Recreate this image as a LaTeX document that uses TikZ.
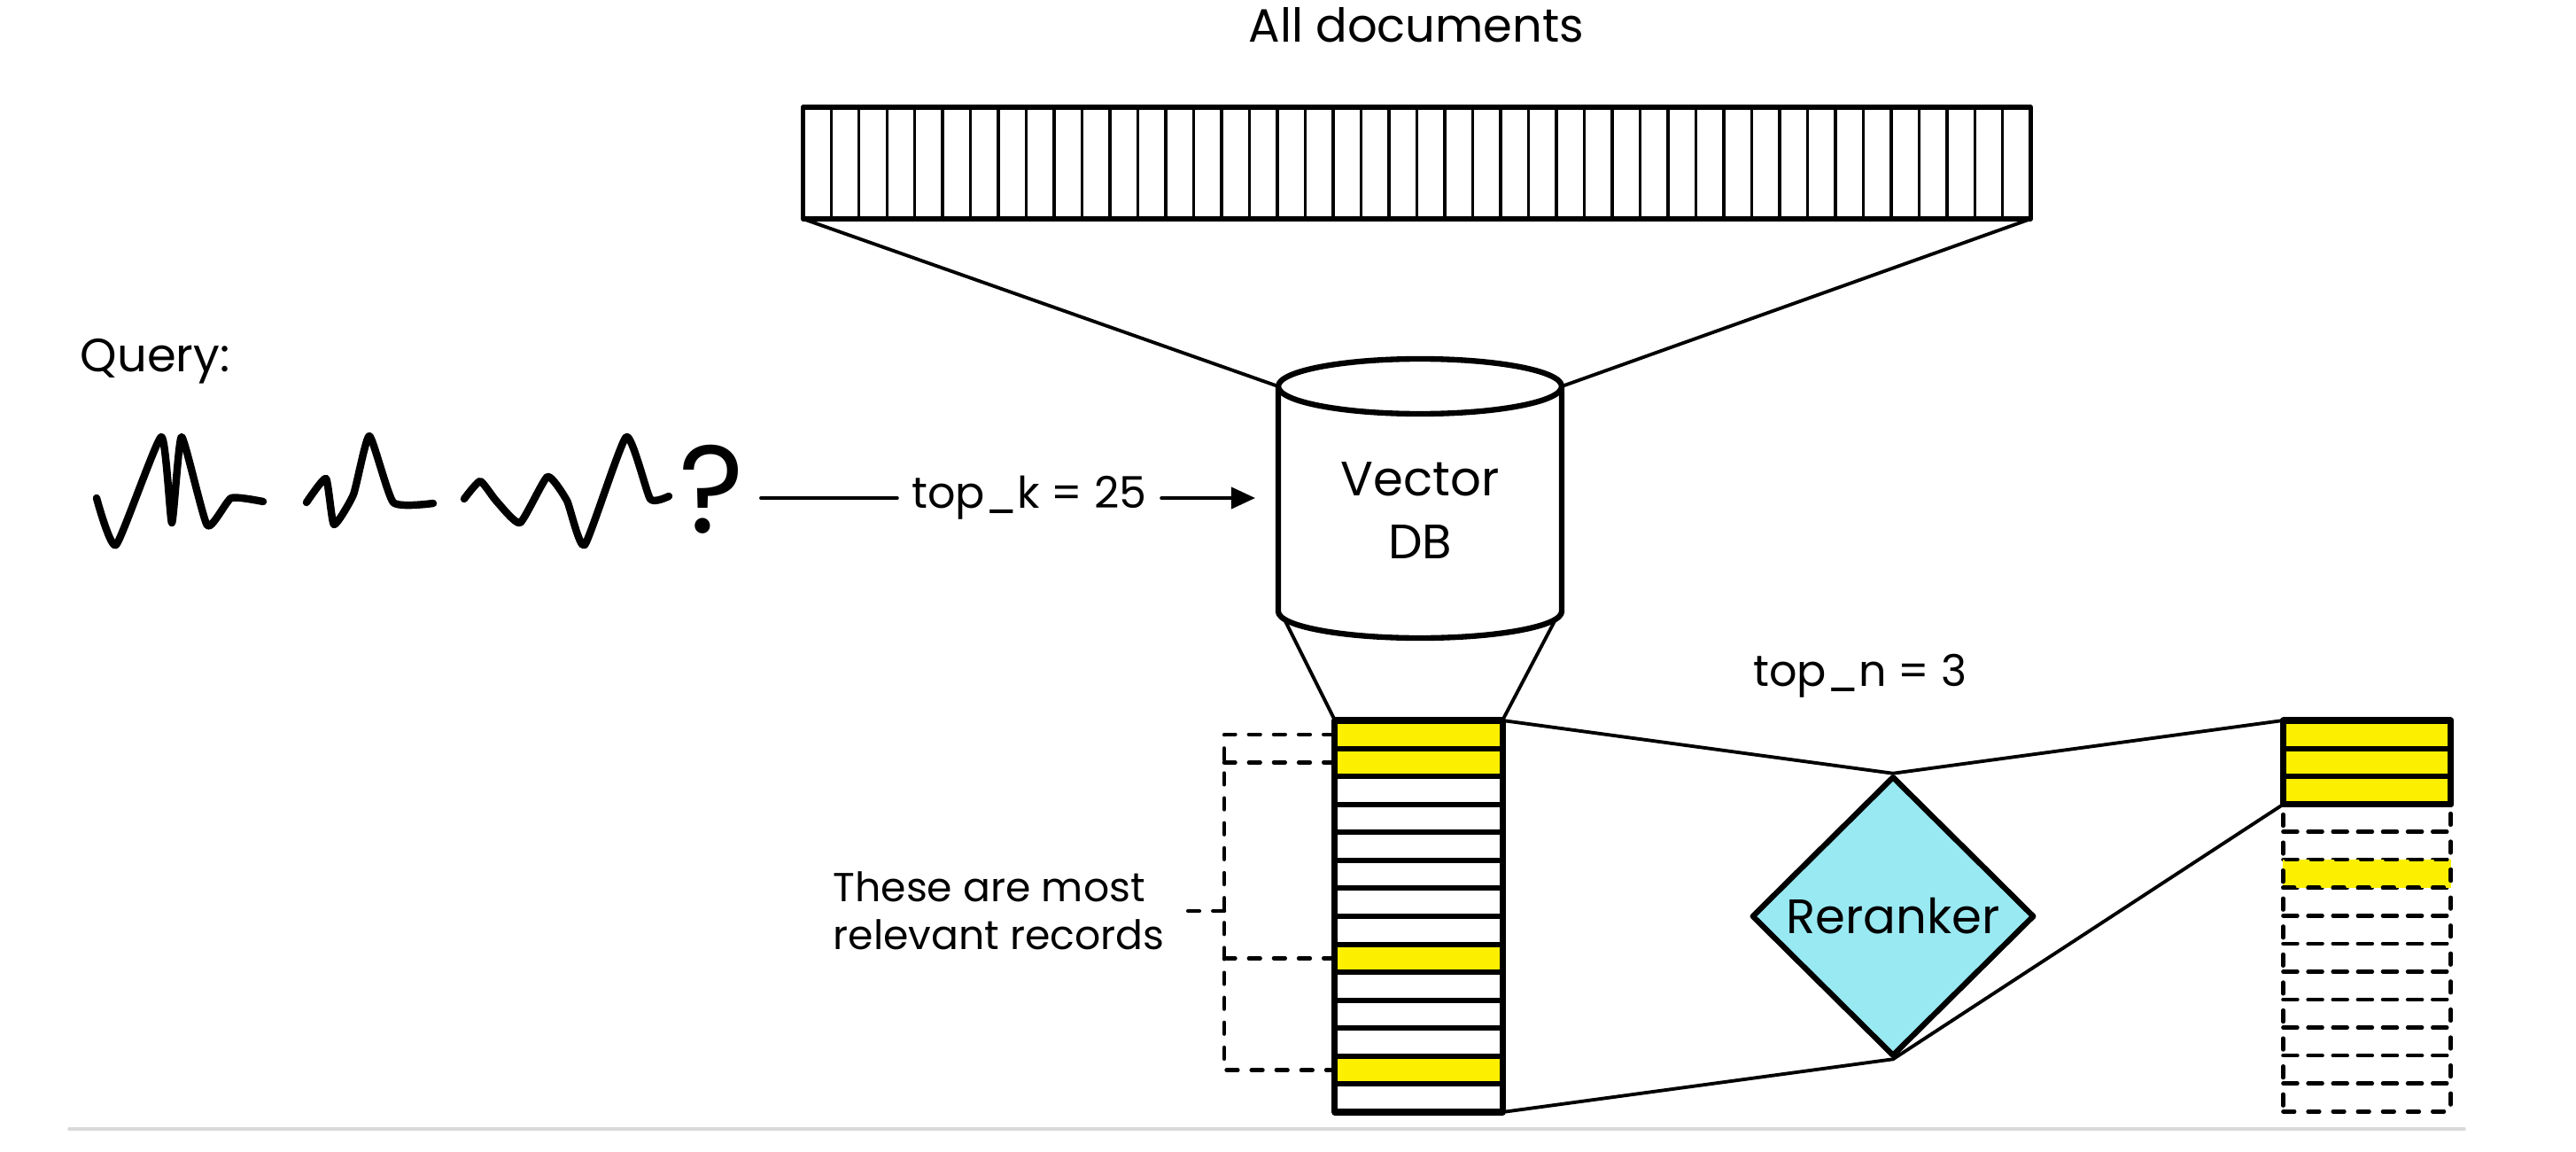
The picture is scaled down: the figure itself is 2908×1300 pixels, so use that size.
\documentclass[tikz,border=0pt]{standalone}
\usepackage{fontspec}
\setmainfont{Poppins}
\usetikzlibrary{shapes.geometric, arrows.meta, positioning, calc}
\definecolor{stabilo}{RGB}{252,240,0}
\definecolor{birumuda}{RGB}{153,233,242}

\begin{document}
\begin{tikzpicture}[x=0.01cm, y=-0.01cm, line join=round, line cap=round]
    % Gaya garis dan teks
    \tikzset{
      garis/.style={line width=1.1pt},
      tebal/.style={line width=1.8pt},
      coret/.style={line width=2.4pt},
      putus/.style={line width=1.3pt, dash pattern=on 3.6pt off 4.4pt},
      teks/.style={font=\fontsize{14}{19}\selectfont, inner sep=0pt},
      baris/.style={draw, line width=1.7pt, minimum width=1.89cm, minimum height=0.3157cm, inner sep=0pt, outer sep=0pt}
    }
    \useasboundingbox (0,0) rectangle (2908,1300);

    % Semua dokumen
    \node[teks, font=\fontsize{15}{18}\selectfont] (judul) at (1599,28) {All documents};
    \node[draw, line width=1.6pt, minimum width=13.85cm, minimum height=1.26cm, inner sep=0pt, outer sep=0pt] (docs) at (1599.5,184) {};
    \foreach \i in {1,...,43}
      \draw[line width=0.9pt] ($(docs.north west)!\i/44!(docs.north east)$) -- ($(docs.south west)!\i/44!(docs.south east)$);

    % Silinder Vector DB
    \coordinate (dbpusat) at (1603,436);
    \coordinate (dbtl) at (1443,436);
    \coordinate (dbtr) at (1763,436);
    \coordinate (dbbl) at (1443,690);
    \coordinate (dbkiri) at (1450,699);
    \coordinate (dbkanan) at (1756,699);
    \draw[garis] (docs.south west) -- (dbtl);
    \draw[garis] (docs.south east) -- (dbtr);
    \draw[tebal, fill=white] (dbtl) -- (dbbl) arc[start angle=180, end angle=0, x radius=160, y radius=30] -- (dbtr);
    \draw[tebal] (dbpusat) ellipse[x radius=160, y radius=31];
    \node[teks, font=\fontsize{15.5}{20}\selectfont, align=center] (db) at (1603,576) {Vector\\DB};

    % Query
    \node[teks, anchor=west, font=\fontsize{15}{18}\selectfont] (query) at (90,408) {Query:};
    \draw[coret] plot[smooth, tension=0.3] coordinates {(109,562) (131,615) (182,493) (194,590) (205,493) (234,593) (261,562) (297,566)};
    \draw[coret] plot[smooth, tension=0.3] coordinates {(346,567) (368,540) (377,592) (399,558) (417,492) (444,567) (489,568)};
    \draw[coret] plot[smooth, tension=0.3] coordinates {(524,563) (542,543) (560,565) (587,590) (618,538) (640,565) (660,615) (707,493) (734,563) (755,560)};
    \node[teks, font=\fontsize{40}{40}\selectfont] (tanya) at (803,552) {?};
    \coordinate (qmulai) at (859,562);
    \coordinate (dbmasuk) at (1417,562);
    \node[teks, inner sep=4.5pt] (topk) at (1162,562) {top\_k = 25};
    \draw[garis] (qmulai) -- (topk.west);
    \draw[garis, -{Triangle[length=0.27cm, width=0.24cm]}] (topk.east) -- (dbmasuk);

    % Kolom hasil pencarian
    \foreach \i in {1,...,14}
      \node[baris, fill=white] (r\i) at (1601.5, {813+(\i-0.5)*31.57}) {};
    \foreach \i in {1,2,9,13}
      \node[baris, fill=stabilo] at (r\i) {};
    \draw[line width=2pt] (r1.north west) rectangle (r14.south east);
    \draw[garis] (dbkiri) -- (r1.north west);
    \draw[garis] (dbkanan) -- (r1.north east);

    % Kurung putus-putus
    \node[teks, anchor=west, align=left, font=\fontsize{13}{15.4}\selectfont] (catatan) at (940,1028) {These are most\\relevant records};
    \coordinate (kx) at (1382,0);
    \draw[putus] (r1.west) -- (r1.west -| kx) -- (r13.west -| kx) -- (r13.west);
    \draw[putus] (r2.west) -- (r2.west -| kx);
    \draw[putus] (r9.west) -- (r9.west -| kx);
    \draw[putus, shorten >=0.2cm] (catatan.east -| kx) -- (catatan.east);

    % Reranker
    \node[diamond, draw, tebal, fill=birumuda, minimum width=3.19cm, minimum height=3.16cm, inner sep=0pt, font=\fontsize{15.5}{18}\selectfont] (rr) at (2137,1034) {Reranker};
    \node[teks] (topn) at (2100,763) {top\_n = 3};

    % Tiga teratas
    \foreach \i in {1,2,3}
      \node[baris, fill=stabilo] (p\i) at (2672, {813+(\i-0.5)*31.57}) {};
    \foreach \i in {1,...,11}
      \node[baris, putus] (s\i) at (2672, {907+(\i-0.5)*31.57}) {};
    \fill[stabilo] (s3.north west) rectangle (s3.south east);
    \node[baris, putus] at (s3) {};
    \draw[line width=2pt] (p1.north west) rectangle (p3.south east);

    \draw[garis] (r1.north east) -- (rr.north) -- (p1.north west);
    \draw[garis] (r14.south east) -- (rr.south) -- (p3.south west);

    % Garis bawah
    \draw[line width=1pt, black!15] (78,1274) -- (2782,1274);
  \end{tikzpicture}
\end{document}
